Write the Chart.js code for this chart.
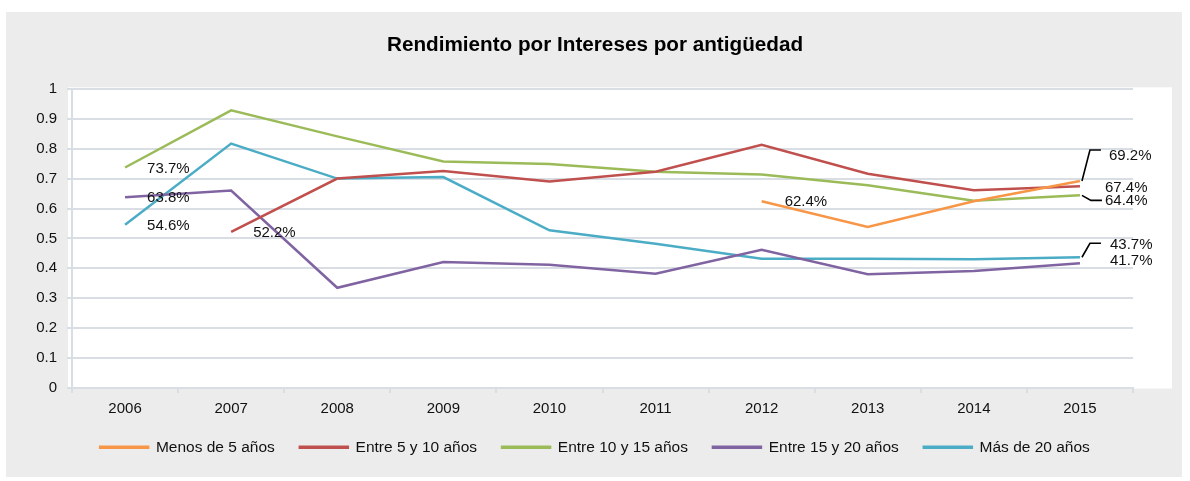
<!DOCTYPE html>
<html>
<head>
<meta charset="utf-8">
<script src="https://cdn.jsdelivr.net/npm/chart.js@4.4.1/dist/chart.umd.min.js"></script>
<style>
  html, body { margin: 0; padding: 0; background: #ffffff; }
  #wrap { position: relative; width: 1190px; height: 481px; }
</style>
</head>
<body>
<div id="wrap"><canvas id="c" width="1190" height="481"></canvas></div>
<script>
// ---- Data ----
const years = ['2006','2007','2008','2009','2010','2011','2012','2013','2014','2015'];
const menos5   = [null, null, null, null, null, null, 0.624, 0.538, 0.624, 0.692];
const entre5_10  = [null, 0.522, 0.700, 0.725, 0.690, 0.723, 0.813, 0.716, 0.661, 0.674];
const entre10_15 = [0.737, 0.928, 0.841, 0.757, 0.749, 0.723, 0.714, 0.678, 0.626, 0.644];
const entre15_20 = [0.638, 0.660, 0.335, 0.421, 0.412, 0.382, 0.462, 0.380, 0.391, 0.417];
const mas20      = [0.546, 0.817, 0.700, 0.705, 0.527, 0.482, 0.432, 0.432, 0.430, 0.437];
const seriesNames = ['Menos de 5 años','Entre 5 y 10 años','Entre 10 y 15 años','Entre 15 y 20 años','Más de 20 años'];
const yTickLabels = ['0','0.1','0.2','0.3','0.4','0.5','0.6','0.7','0.8','0.9','1'];
// labelled points: [seriesIndex, pointIndex]
const labelledPoints = [[2,0],[3,0],[4,0],[1,1],[0,6],[0,9],[1,9],[2,9],[4,9],[3,9]];

// ---- Styles ----
const colors = ['#f79646','#c0504d','#9bbb59','#8064a2','#4bacc6'];
const FONT = '"Liberation Sans", Arial, sans-serif';
const GRID = '#d9dee4';
// placement of each labelled point's text: dx, dy from point, optional leader polyline
const labelPlacement = {
  '2,0': {dx: 22, dy: 1},
  '3,0': {dx: 22, dy: 1},
  '4,0': {dx: 22, dy: 1},
  '1,1': {dx: 22, dy: 1},
  '0,6': {dx: 23, dy: 1},
  '0,9': {dx: 29, dy: -25, leader: [[2,0],[10,-31],[21,-31]]},
  '1,9': {dx: 25, dy: 1},
  '2,9': {dx: 25, dy: 6, leader: [[2,0],[11,5],[22,5]]},
  '4,9': {dx: 30, dy: -12, leader: [[2,0],[10,-14],[21,-14]]},
  '3,9': {dx: 30, dy: -2}
};

const allSeries = [menos5, entre5_10, entre10_15, entre15_20, mas20];

const bgPlugin = {
  id: 'bg',
  beforeDraw(chart) {
    const ctx = chart.ctx, a = chart.chartArea;
    ctx.save();
    ctx.fillStyle = '#ececec';
    ctx.fillRect(6, 12, 1176, 465);
    ctx.fillStyle = '#ffffff';
    ctx.fillRect(a.left - 4, a.top - 1.5, (a.right + 39) - (a.left - 4), a.bottom - a.top + 2);
    ctx.restore();
  }
};

const labelPlugin = {
  id: 'ptlabels',
  afterDatasetsDraw(chart) {
    const ctx = chart.ctx;
    ctx.save();
    ctx.font = '15px ' + FONT;
    ctx.fillStyle = '#111';
    ctx.textBaseline = 'middle';
    ctx.textAlign = 'left';
    ctx.strokeStyle = '#000';
    ctx.lineWidth = 1.6;
    labelledPoints.forEach(([s, i]) => {
      const el = chart.getDatasetMeta(s).data[i];
      const v = allSeries[s][i];
      const p = labelPlacement[s + ',' + i];
      if (p.leader) {
        ctx.beginPath();
        p.leader.forEach(([lx, ly], k) => {
          if (k === 0) ctx.moveTo(el.x + lx, el.y + ly); else ctx.lineTo(el.x + lx, el.y + ly);
        });
        ctx.stroke();
      }
      ctx.fillText((v * 100).toFixed(1) + '%', el.x + p.dx, el.y + p.dy);
    });
    ctx.restore();
  }
};

new Chart(document.getElementById('c'), {
  type: 'line',
  data: {
    labels: years,
    datasets: allSeries.map((d, k) => ({
      label: seriesNames[k],
      data: d,
      borderColor: colors[k],
      backgroundColor: colors[k],
      borderWidth: 2.5,
      pointRadius: 0,
      tension: 0,
      spanGaps: false
    }))
  },
  options: {
    responsive: false,
    animation: false,
    layout: { padding: { top: 33, left: 0, right: 0, bottom: 16 } },
    plugins: {
      title: {
        display: true,
        text: 'Rendimiento por Intereses por antigüedad',
        font: { family: FONT, size: 20.7, weight: 'bold' },
        color: '#000',
        padding: { top: 0, bottom: 31 }
      },
      legend: {
        position: 'bottom',
        labels: {
          font: { family: FONT, size: 15.5 },
          color: '#111',
          boxWidth: 48,
          boxHeight: 1,
          padding: 25
        }
      },
      tooltip: { enabled: false }
    },
    scales: {
      x: {
        type: 'category',
        offset: true,
        grid: { offset: true, drawOnChartArea: false, drawTicks: true, tickLength: 5, color: GRID, lineWidth: 2 },
        border: { color: GRID, width: 2 },
        ticks: { font: { family: FONT, size: 15 }, color: '#111', padding: 7, maxRotation: 0 },
        afterFit(s) { s.height = 26.5; }
      },
      y: {
        min: 0, max: 1,
        grid: { color: GRID, lineWidth: 2, tickLength: 5 },
        border: { color: GRID, width: 2 },
        ticks: {
          stepSize: 0.1,
          font: { family: FONT, size: 15 }, color: '#111', padding: 10,
          callback: (v) => yTickLabels[Math.round(v * 10)]
        },
        afterFit(s) { s.width = 72; }
      },
      yR: {
        position: 'right',
        display: true,
        grid: { display: false, drawOnChartArea: false },
        border: { display: false },
        ticks: { display: false },
        afterFit(s) { s.width = 57; }
      }
    }
  },
  plugins: [bgPlugin, labelPlugin]
});
</script>
</body>
</html>
